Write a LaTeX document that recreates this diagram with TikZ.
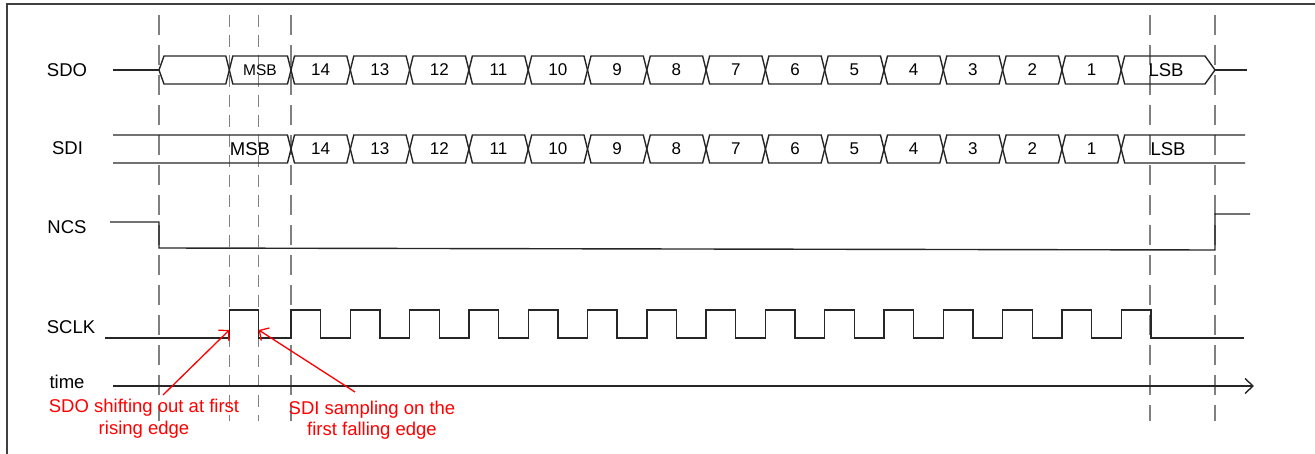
\documentclass[tikz,border=0pt]{standalone}
\usepackage{fontspec}
\setmainfont{Liberation Sans}
\usetikzlibrary{arrows.meta}
\tikzset{
  sig/.style={line width=1.4pt, draw=black!85, line join=miter},
  guide/.style={draw=black!50, line width=1.5pt},
  longdash/.style={guide, dash pattern=on 20pt off 10pt},
  shortdash/.style={guide, dash pattern=on 12pt off 8pt},
  lbl/.style={font=\fontsize{18.5}{21}\selectfont, inner sep=0pt},
  num/.style={font=\fontsize{17}{20}\selectfont, inner sep=0pt},
  small/.style={font=\fontsize{15.5}{18}\selectfont, inner sep=0pt},
  note/.style={font=\fontsize{18.5}{21.5}\selectfont, text=red, align=center, inner sep=0pt},
  notearrow/.style={draw=red, line width=1.3pt, -{Straight Barb[length=7pt,width=15pt]}},
  axis/.style={line width=1.4pt, draw=black!85, -{Straight Barb[length=8pt,width=15pt]}},
  frame/.style={line width=1.6pt, draw=black!75}
}
% y, a, b, left half-width, right half-width
\newcommand\hexcell[5]{%
  \draw[sig] (#2,#1) -- ({#2+#4},{#1-14}) -- ({#3-#5},{#1-14}) -- (#3,#1)
    -- ({#3-#5},{#1+14}) -- ({#2+#4},{#1+14}) -- cycle;}
\begin{document}
\begin{tikzpicture}[x=1pt,y=-1pt]
\useasboundingbox (0,0) rectangle (1315,454);
% frame
\draw[frame] (7,454) -- (7,4) -- (1315,4);

% guide lines
\foreach \x in {159,291,1150,1215}{\draw[longdash] (\x,15) -- (\x,421);}
\foreach \x in {229.3,258.7}{\draw[shortdash] (\x,15) -- (\x,421);}

% signal names
\node[lbl] (lsdo) at (67,70) {SDO};
\node[lbl] (lsdi) at (67.5,148) {SDI};
\node[lbl] (lncs) at (67,227) {NCS};
\node[lbl] (lsclk) at (71,327.5) {SCLK};
\node[lbl] (ltime) at (67,382) {time};

% SDO
\draw[sig] (113,70) -- (159,70);
\hexcell{70}{159}{229.3}{5}{3.5}
\hexcell{70}{229.3}{291}{3.5}{3.5}
\node[small] (sdomsb) at (260,70) {MSB};
\foreach \k [evaluate=\k as \a using 291+\k*59.3,
             evaluate=\k as \b using 291+(\k+1)*59.3,
             evaluate=\k as \n using int(14-\k)] in {0,...,13}{
  \hexcell{70}{\a}{\b}{3.5}{3.5}
  \node[num] (sdo\n) at ({(\a+\b)/2},70) {\n};
}
\hexcell{70}{1121.2}{1215}{3.5}{10}
\node[lbl] (sdolsb) at (1166,70) {LSB};
\draw[sig] (1215,70) -- (1247,70);

% SDI
\draw[sig] (113,135) -- (287.5,135) -- (291,149) -- (287.5,163) -- (113,163);
\node[lbl] (sdimsb) at (250,149) {MSB};
\foreach \k [evaluate=\k as \a using 291+\k*59.3,
             evaluate=\k as \b using 291+(\k+1)*59.3,
             evaluate=\k as \n using int(14-\k)] in {0,...,13}{
  \hexcell{149}{\a}{\b}{3.5}{3.5}
  \node[num] (sdi\n) at ({(\a+\b)/2},149) {\n};
}
\draw[sig] (1245,135) -- (1124.7,135) -- (1121.2,149) -- (1124.7,163) -- (1245,163);
\node[lbl] (sdilsb) at (1168,149) {LSB};

% NCS
\draw[sig] (110,222) -- (159,222) -- (159,248) -- (1215,250) -- (1215,214) -- (1250,214);

% SCLK
\draw[sig] (105,338) -- (229.3,338) -- (229.3,310) -- (258.7,310) -- (258.7,338)
  \foreach \k in {0,...,14}{ -- ({291+\k*59.3},338) -- ({291+\k*59.3},310)
     -- ({320.6+\k*59.3},310) -- ({320.6+\k*59.3},338) } -- (1244,338);

% time axis
\coordinate (t0) at (113,386);
\coordinate (t1) at (1254,386);
\draw[axis] (t0) -- (t1);

% annotations
\node[note] (n1) at (144,418.5) {SDO shifting out at first\\rising edge};
\node[note] (n2) at (372,420) {SDI sampling on the\\first falling edge};
\coordinate (r1) at (229.3,330);
\coordinate (f1) at (258.7,330);
\coordinate (n1s) at (163,395);
\coordinate (n2s) at (355,392);
\draw[notearrow] (n1s) -- (r1);
\draw[notearrow] (n2s) -- (f1);
\end{tikzpicture}
\end{document}
